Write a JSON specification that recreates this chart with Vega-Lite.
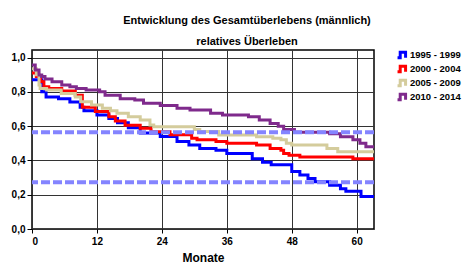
{
  "$schema": "https://vega.github.io/schema/vega-lite/v6.json",
  "autosize": {"type": "none"},
  "width": 342,
  "height": 179,
  "padding": {"left": 32, "top": 50, "right": 88, "bottom": 38},
  "background": "white",
  "config": {
    "font": "Liberation Sans",
    "view": {"stroke": "black", "strokeWidth": 1.5},
    "axis": {"labelFont": "Liberation Sans", "labelFontWeight": "bold", "labelFontSize": 10, "labelColor": "black", "titleFont": "Liberation Sans", "titleColor": "black", "domainColor": "black", "tickColor": "black", "gridColor": "#333333", "gridOpacity": 1, "gridWidth": 1}
  },
  "title": {
    "text": ["Entwicklung des Gesamtüberlebens (männlich)", "relatives Überleben"],
    "font": "Liberation Sans",
    "fontSize": 11,
    "fontWeight": "bold",
    "color": "black",
    "lineHeight": 21,
    "anchor": "middle",
    "dx": 44,
    "offset": 3
  },
  "datasets": {
    "curves": [
      {"s": "1995 - 1999", "m": 0, "v": 0.87}, {"s": "1995 - 1999", "m": 1.8, "v": 0.80}, {"s": "1995 - 1999", "m": 2.6, "v": 0.77}, {"s": "1995 - 1999", "m": 4.9, "v": 0.76}, {"s": "1995 - 1999", "m": 7, "v": 0.74}, {"s": "1995 - 1999", "m": 8.9, "v": 0.71}, {"s": "1995 - 1999", "m": 9.6, "v": 0.69}, {"s": "1995 - 1999", "m": 12, "v": 0.665}, {"s": "1995 - 1999", "m": 14.2, "v": 0.645}, {"s": "1995 - 1999", "m": 15.8, "v": 0.62}, {"s": "1995 - 1999", "m": 17.8, "v": 0.59}, {"s": "1995 - 1999", "m": 20, "v": 0.56}, {"s": "1995 - 1999", "m": 23.7, "v": 0.54}, {"s": "1995 - 1999", "m": 26.8, "v": 0.51}, {"s": "1995 - 1999", "m": 29, "v": 0.49}, {"s": "1995 - 1999", "m": 31, "v": 0.47}, {"s": "1995 - 1999", "m": 34, "v": 0.46}, {"s": "1995 - 1999", "m": 36, "v": 0.44}, {"s": "1995 - 1999", "m": 40.7, "v": 0.41}, {"s": "1995 - 1999", "m": 42.6, "v": 0.39}, {"s": "1995 - 1999", "m": 44.2, "v": 0.375}, {"s": "1995 - 1999", "m": 48, "v": 0.335}, {"s": "1995 - 1999", "m": 49.5, "v": 0.315}, {"s": "1995 - 1999", "m": 51, "v": 0.295}, {"s": "1995 - 1999", "m": 52.3, "v": 0.275}, {"s": "1995 - 1999", "m": 55, "v": 0.255}, {"s": "1995 - 1999", "m": 57, "v": 0.235}, {"s": "1995 - 1999", "m": 58, "v": 0.22}, {"s": "1995 - 1999", "m": 60.8, "v": 0.19}, {"s": "1995 - 1999", "m": 63.2, "v": 0.19},
      {"s": "2000 - 2004", "m": 0, "v": 0.91}, {"s": "2000 - 2004", "m": 0.8, "v": 0.89}, {"s": "2000 - 2004", "m": 1.6, "v": 0.86}, {"s": "2000 - 2004", "m": 2.2, "v": 0.83}, {"s": "2000 - 2004", "m": 3.1, "v": 0.82}, {"s": "2000 - 2004", "m": 5.5, "v": 0.805}, {"s": "2000 - 2004", "m": 8, "v": 0.78}, {"s": "2000 - 2004", "m": 9.3, "v": 0.71}, {"s": "2000 - 2004", "m": 11.7, "v": 0.685}, {"s": "2000 - 2004", "m": 14.2, "v": 0.655}, {"s": "2000 - 2004", "m": 15.4, "v": 0.63}, {"s": "2000 - 2004", "m": 17.2, "v": 0.605}, {"s": "2000 - 2004", "m": 20, "v": 0.587}, {"s": "2000 - 2004", "m": 22, "v": 0.567}, {"s": "2000 - 2004", "m": 25.5, "v": 0.55}, {"s": "2000 - 2004", "m": 29.5, "v": 0.53}, {"s": "2000 - 2004", "m": 30.5, "v": 0.52}, {"s": "2000 - 2004", "m": 34, "v": 0.51}, {"s": "2000 - 2004", "m": 36, "v": 0.5}, {"s": "2000 - 2004", "m": 41.5, "v": 0.49}, {"s": "2000 - 2004", "m": 44, "v": 0.47}, {"s": "2000 - 2004", "m": 46, "v": 0.46}, {"s": "2000 - 2004", "m": 46.5, "v": 0.44}, {"s": "2000 - 2004", "m": 47.5, "v": 0.43}, {"s": "2000 - 2004", "m": 49.5, "v": 0.42}, {"s": "2000 - 2004", "m": 59.3, "v": 0.41}, {"s": "2000 - 2004", "m": 63.2, "v": 0.41},
      {"s": "2005 - 2009", "m": 0, "v": 0.935}, {"s": "2005 - 2009", "m": 0.8, "v": 0.9}, {"s": "2005 - 2009", "m": 1.3, "v": 0.84}, {"s": "2005 - 2009", "m": 1.5, "v": 0.82}, {"s": "2005 - 2009", "m": 2.7, "v": 0.81}, {"s": "2005 - 2009", "m": 5.4, "v": 0.79}, {"s": "2005 - 2009", "m": 8, "v": 0.77}, {"s": "2005 - 2009", "m": 9, "v": 0.742}, {"s": "2005 - 2009", "m": 11, "v": 0.723}, {"s": "2005 - 2009", "m": 13, "v": 0.704}, {"s": "2005 - 2009", "m": 14.5, "v": 0.69}, {"s": "2005 - 2009", "m": 15.7, "v": 0.675}, {"s": "2005 - 2009", "m": 17.8, "v": 0.655}, {"s": "2005 - 2009", "m": 20, "v": 0.636}, {"s": "2005 - 2009", "m": 21.8, "v": 0.606}, {"s": "2005 - 2009", "m": 22.5, "v": 0.596}, {"s": "2005 - 2009", "m": 30, "v": 0.58}, {"s": "2005 - 2009", "m": 31, "v": 0.568}, {"s": "2005 - 2009", "m": 34.5, "v": 0.548}, {"s": "2005 - 2009", "m": 41.5, "v": 0.538}, {"s": "2005 - 2009", "m": 44.5, "v": 0.529}, {"s": "2005 - 2009", "m": 46, "v": 0.52}, {"s": "2005 - 2009", "m": 47, "v": 0.5}, {"s": "2005 - 2009", "m": 48, "v": 0.49}, {"s": "2005 - 2009", "m": 54.5, "v": 0.47}, {"s": "2005 - 2009", "m": 56.5, "v": 0.45}, {"s": "2005 - 2009", "m": 63.2, "v": 0.45},
      {"s": "2010 - 2014", "m": 0, "v": 0.956}, {"s": "2010 - 2014", "m": 0.6, "v": 0.927}, {"s": "2010 - 2014", "m": 1.3, "v": 0.898}, {"s": "2010 - 2014", "m": 1.8, "v": 0.89}, {"s": "2010 - 2014", "m": 2.4, "v": 0.875}, {"s": "2010 - 2014", "m": 3.7, "v": 0.859}, {"s": "2010 - 2014", "m": 5.5, "v": 0.84}, {"s": "2010 - 2014", "m": 7, "v": 0.83}, {"s": "2010 - 2014", "m": 8.2, "v": 0.82}, {"s": "2010 - 2014", "m": 10, "v": 0.81}, {"s": "2010 - 2014", "m": 12.5, "v": 0.8}, {"s": "2010 - 2014", "m": 13.5, "v": 0.78}, {"s": "2010 - 2014", "m": 16.3, "v": 0.76}, {"s": "2010 - 2014", "m": 19, "v": 0.752}, {"s": "2010 - 2014", "m": 20.6, "v": 0.733}, {"s": "2010 - 2014", "m": 23.7, "v": 0.72}, {"s": "2010 - 2014", "m": 26.8, "v": 0.704}, {"s": "2010 - 2014", "m": 29.2, "v": 0.694}, {"s": "2010 - 2014", "m": 33, "v": 0.675}, {"s": "2010 - 2014", "m": 35.2, "v": 0.665}, {"s": "2010 - 2014", "m": 40, "v": 0.655}, {"s": "2010 - 2014", "m": 42, "v": 0.636}, {"s": "2010 - 2014", "m": 44, "v": 0.616}, {"s": "2010 - 2014", "m": 45.5, "v": 0.6}, {"s": "2010 - 2014", "m": 46.5, "v": 0.58}, {"s": "2010 - 2014", "m": 48.5, "v": 0.565}, {"s": "2010 - 2014", "m": 55, "v": 0.555}, {"s": "2010 - 2014", "m": 57, "v": 0.538}, {"s": "2010 - 2014", "m": 59.3, "v": 0.52}, {"s": "2010 - 2014", "m": 60.6, "v": 0.5}, {"s": "2010 - 2014", "m": 61.7, "v": 0.48}, {"s": "2010 - 2014", "m": 63.2, "v": 0.48}
    ],
    "refs": [{"r": 0.564}, {"r": 0.272}]
  },
  "layer": [
    {
      "data": {"name": "curves"},
      "mark": {"type": "line", "interpolate": "step-after", "strokeWidth": 3, "clip": true},
      "encoding": {
        "x": {
          "field": "m", "type": "quantitative",
          "scale": {"domain": [0, 63.2], "nice": false, "zero": false},
          "axis": {"values": [0, 12, 24, 36, 48, 60], "title": "Monate", "titleFontSize": 12, "titleFontWeight": "bold", "titlePadding": 6, "tickSize": 4, "labelPadding": 3, "grid": true, "domain": false, "labelOverlap": false}
        },
        "y": {
          "field": "v", "type": "quantitative",
          "scale": {"domain": [0, 1.044], "nice": false, "zero": false},
          "axis": {"values": [0, 0.2, 0.4, 0.6, 0.8, 1.0], "title": null, "labelExpr": "replace(format(datum.value, '.1f'), '.', ',')", "tickSize": 5, "labelPadding": 2, "grid": true, "domain": false, "labelOverlap": false}
        },
        "color": {
          "field": "s", "type": "nominal",
          "scale": {"domain": ["1995 - 1999", "2000 - 2004", "2005 - 2009", "2010 - 2014"], "range": ["#0000ff", "#ff0000", "#d4cc9c", "#7f2a8c"]},
          "legend": {
            "title": null,
            "orient": "none",
            "legendX": 364,
            "legendY": 0,
            "symbolType": "M-1,0.6H-0.4V-0.6H0.8V0.6",
            "symbolSize": 80,
            "symbolStrokeWidth": 3,
            "symbolFillColor": "transparent",
            "labelFont": "Liberation Sans",
            "labelFontSize": 9.5,
            "labelFontWeight": "bold",
            "labelColor": "black",
            "labelOffset": 2,
            "clipHeight": 10,
            "rowPadding": 4
          }
        }
      }
    },
    {
      "data": {"name": "refs"},
      "mark": {"type": "rule", "color": "#8484ff", "strokeWidth": 4, "strokeDash": [9, 3]},
      "encoding": {
        "y": {
          "field": "r", "type": "quantitative",
          "axis": {"values": [0, 0.2, 0.4, 0.6, 0.8, 1.0], "title": null, "labelExpr": "replace(format(datum.value, '.1f'), '.', ',')", "tickSize": 5, "labelPadding": 2, "grid": true, "domain": false, "labelOverlap": false}
        }
      }
    }
  ]
}
